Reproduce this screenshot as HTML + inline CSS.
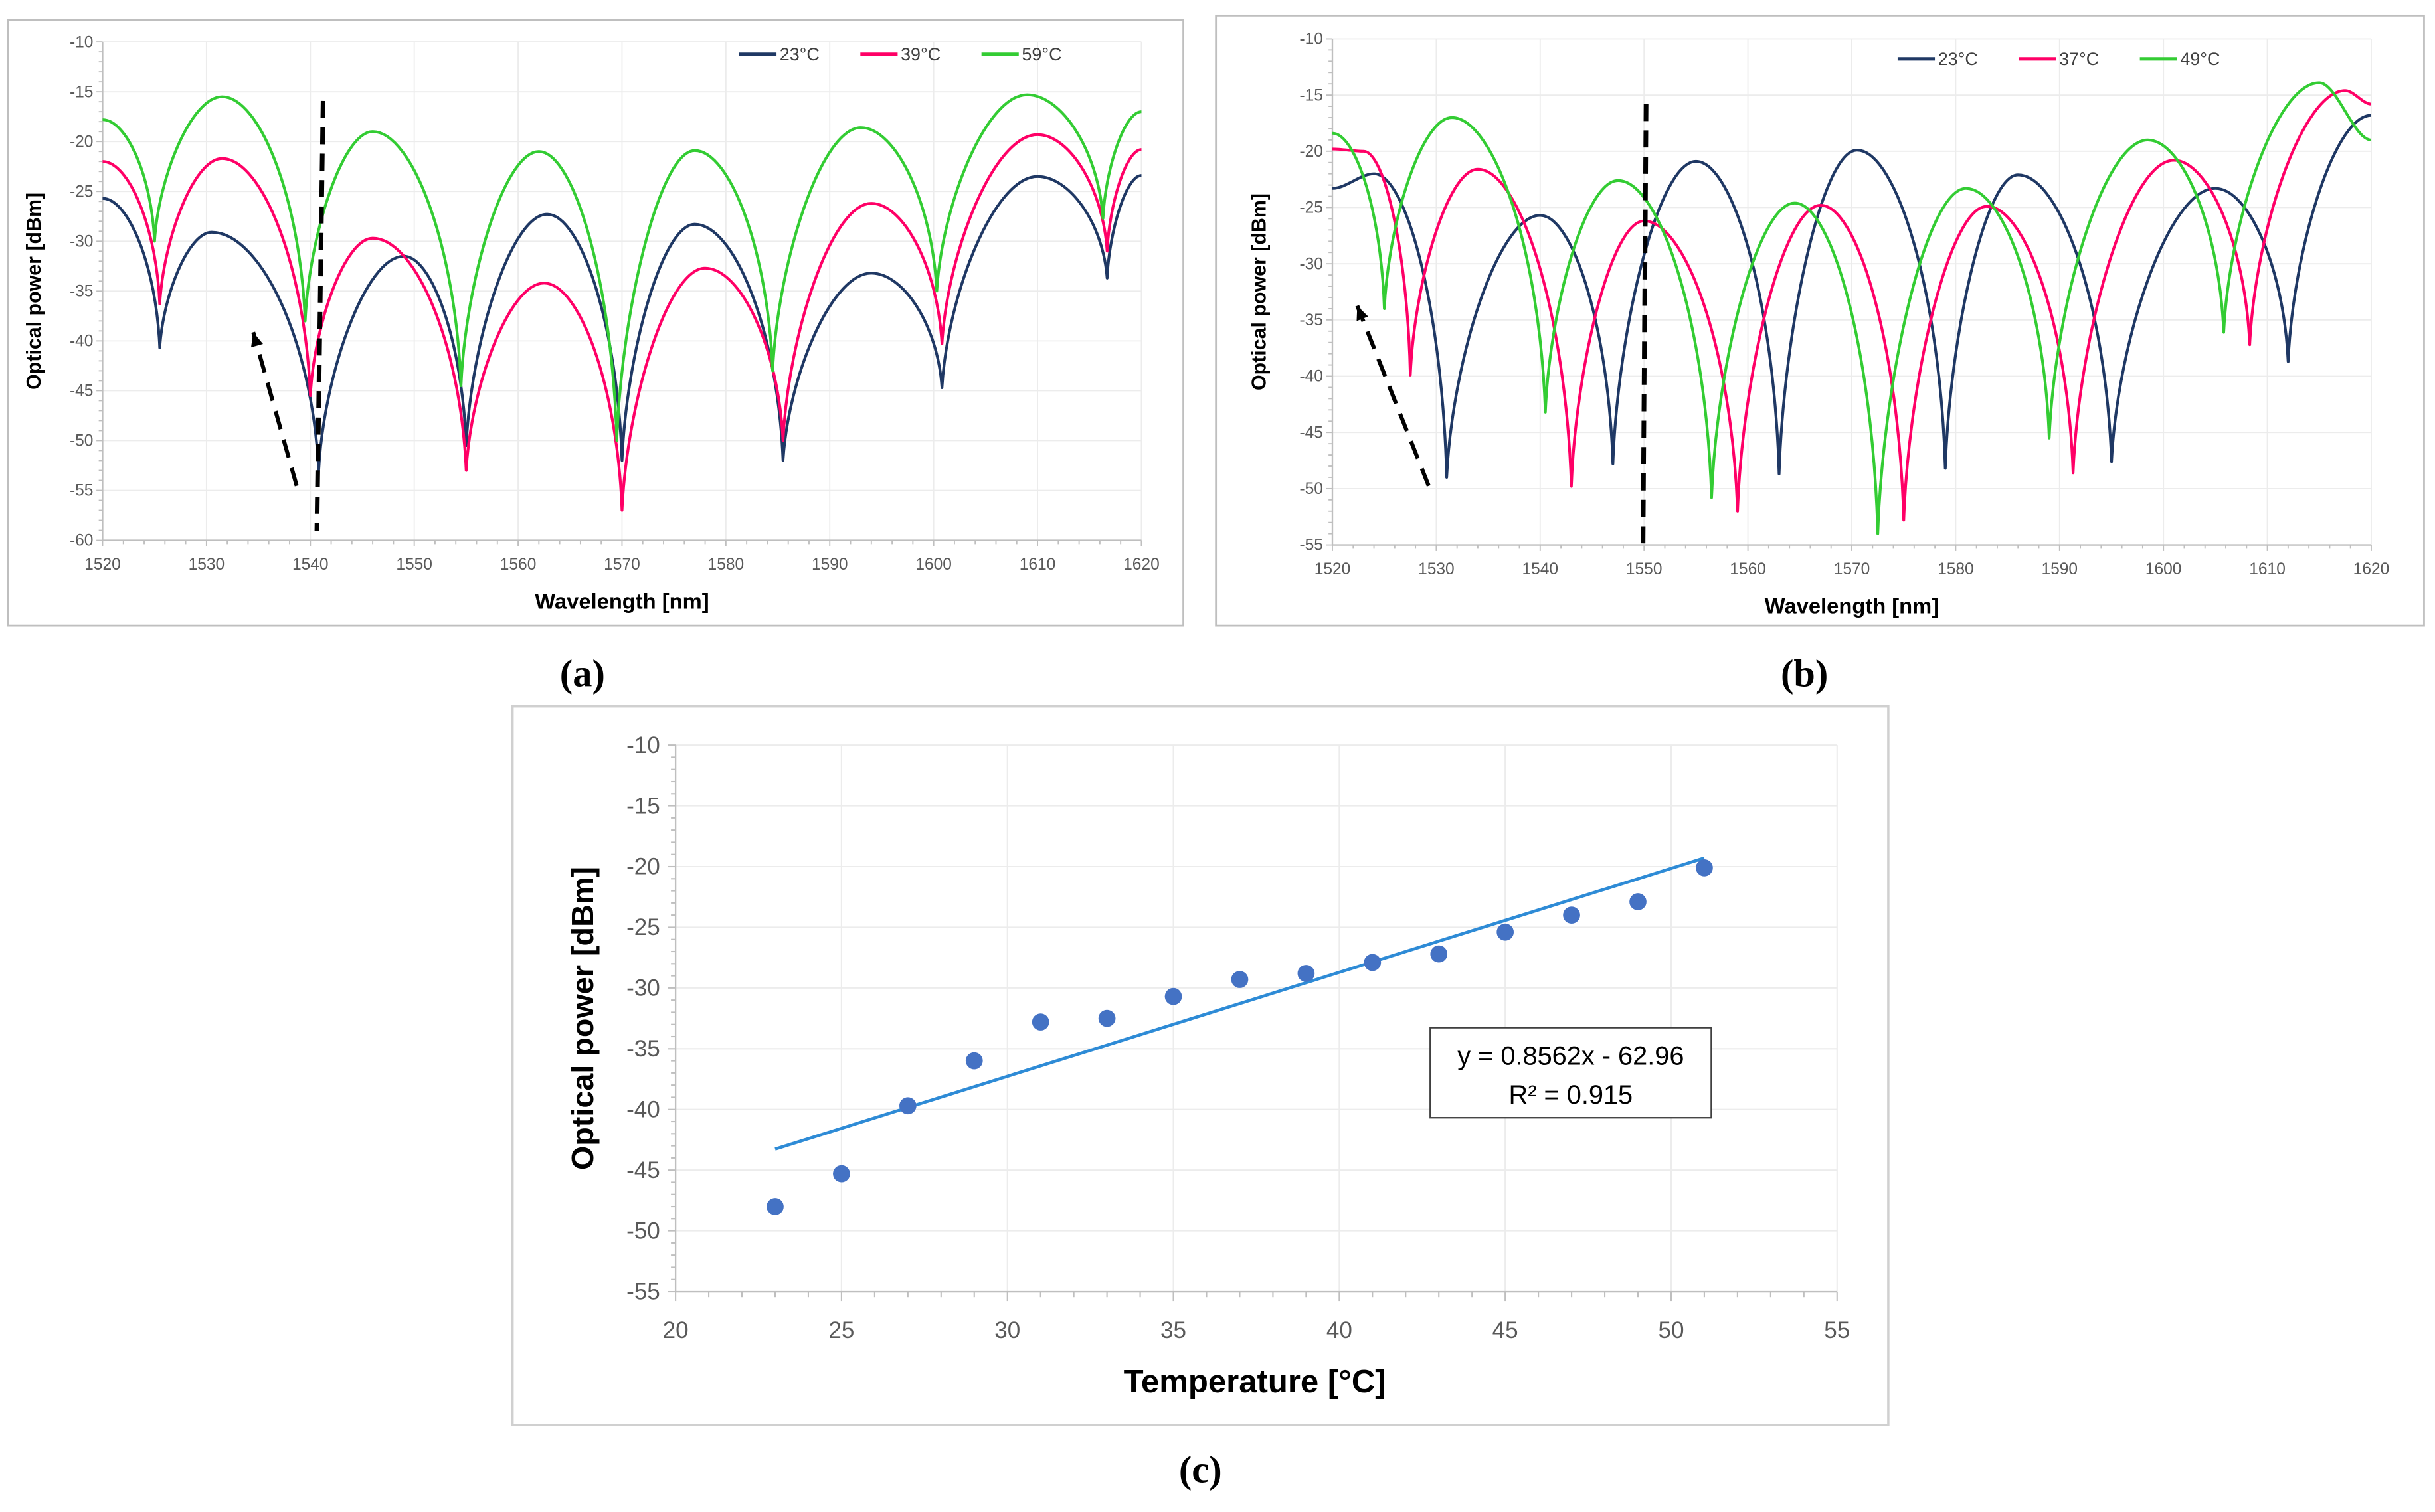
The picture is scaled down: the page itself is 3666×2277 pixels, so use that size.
<!DOCTYPE html>
<html><head><meta charset="utf-8">
<style>
html,body{margin:0;padding:0;background:#fff;}
svg{display:block;}
text{font-family:"Liberation Sans",sans-serif;}
text.serif{font-family:"Liberation Serif",serif;}
</style></head>
<body>
<svg id="fig" width="3666" height="2277" viewBox="0 0 1568 974" xmlns="http://www.w3.org/2000/svg">
</svg>
<script>
// ---------- Panel (a) data ----------
const aBlueX=[1520,1525.5,1530.5,1540.8,1549,1555,1562.8,1570,1577,1585.5,1594,1600.8,1610,1616.7,1620];
const aBlueY=[-25.7,-40.7,-29.1,-53,-31.5,-50.5,-27.3,-52,-28.3,-52,-33.2,-44.7,-23.5,-33.7,-23.4];
const aRedX=[1520,1525.5,1531.5,1540,1546,1555,1562.5,1570,1578,1585.5,1594,1600.8,1610,1616.7,1620];
const aRedY=[-22,-36.3,-21.7,-45.5,-29.7,-53,-34.2,-57,-32.7,-50,-26.2,-40.3,-19.3,-31,-20.8];
const aGreenX=[1520,1525,1531.5,1539.5,1546,1554.5,1562,1569.5,1577,1584.5,1593,1600.3,1609,1616.3,1620];
const aGreenY=[-17.8,-30,-15.5,-38,-19,-44.5,-21,-50,-20.9,-43,-18.6,-35,-15.3,-27.7,-17];
const aLegend=["23°C","39°C","59°C"];
// ---------- Panel (b) data ----------
const bBlueX=[1520,1524,1531,1540,1547,1555,1563,1570.5,1579,1586,1595,1605,1612,1620];
const bBlueY=[-23.3,-22,-49,-25.7,-47.8,-20.9,-48.7,-19.9,-48.2,-22.1,-47.6,-23.3,-38.7,-16.8];
const bRedX=[1520,1523,1527.5,1534,1543,1550,1559,1567,1575,1583,1591.3,1601,1608.3,1617.5,1620];
const bRedY=[-19.8,-20,-39.9,-21.6,-49.8,-26.2,-52,-24.8,-52.8,-24.9,-48.6,-20.8,-37.2,-14.6,-15.8];
const bGreenX=[1520,1525,1531.5,1540.5,1547.5,1556.5,1564.5,1572.5,1581,1589,1598.5,1605.8,1615,1620];
const bGreenY=[-18.4,-34,-17,-43.2,-22.6,-50.8,-24.6,-54,-23.3,-45.5,-19,-36.1,-13.9,-19];
const bLegend=["23°C","37°C","49°C"];
// ---------- Panel (c) data ----------
const cTemps=[23,25,27,29,31,33,35,37,39,41,43,45,47,49,51];
const cPower=[-48,-45.3,-39.7,-36,-32.8,-32.5,-30.7,-29.3,-28.8,-27.9,-27.2,-25.4,-24,-22.9,-20.1];
const cSlope=0.8562, cIntercept=-62.96;
const cXTicks=[20,25,30,35,40,45,50,55];
const cYTicks=[-10,-15,-20,-25,-30,-35,-40,-45,-50,-55];
const abXTicks=[1520,1530,1540,1550,1560,1570,1580,1590,1600,1610,1620];
const aYTicks=[-10,-15,-20,-25,-30,-35,-40,-45,-50,-55,-60];
const bYTicks=[-10,-15,-20,-25,-30,-35,-40,-45,-50,-55];

const NS="http://www.w3.org/2000/svg";
const svg=document.getElementById('fig');
function mk(tag,attrs,parent){const e=document.createElementNS(NS,tag);for(const k in attrs)e.setAttribute(k,attrs[k]);(parent||svg).appendChild(e);return e;}
function txt(s,attrs,parent){const e=mk('text',attrs,parent);e.textContent=s;return e;}

function scale(d0,d1,r0,r1){return v=>r0+(v-d0)*(r1-r0)/(d1-d0);}

function spectrumPath(xs,ys,sx,sy){
  const P=xs.map((x,i)=>[sx(x),sy(ys[i])]);
  const isDip=i=>i>0&&i<ys.length-1&&ys[i]<ys[i-1]&&ys[i]<ys[i+1];
  let d='M'+P[0][0].toFixed(2)+','+P[0][1].toFixed(2);
  for(let i=0;i<P.length-1;i++){
    const A=P[i],B=P[i+1],dx=B[0]-A[0];
    let c1,c2;
    if(isDip(i+1)){c1=[A[0]+0.45*dx,A[1]];c2=[B[0]-0.06*dx,A[1]+0.45*(B[1]-A[1])];}
    else if(isDip(i)){c1=[A[0]+0.06*dx,A[1]+0.45*(B[1]-A[1])];c2=[B[0]-0.45*dx,B[1]];}
    else{c1=[A[0]+dx/3,A[1]];c2=[B[0]-dx/3,B[1]];}
    d+=' C'+c1.map(v=>v.toFixed(2)).join(',')+' '+c2.map(v=>v.toFixed(2)).join(',')+' '+B[0].toFixed(2)+','+B[1].toFixed(2);
  }
  return d;
}

function spectrumPanel(cfg){
  const g=mk('g',{});
  
  
  const fr=mk('rect',{x:cfg.frame[0],y:cfg.frame[1],width:cfg.frame[2],height:cfg.frame[3],fill:'#fff',stroke:'#bfbfbf','stroke-width':1.2},g);
  
  const sx=scale(1520,1620,cfg.px0,cfg.px1), sy=scale(cfg.ymax,cfg.ymin,cfg.py0,cfg.py1);
  abXTicks.forEach(t=>{const l=mk('line',{x1:sx(t),x2:sx(t),y1:cfg.py0,y2:cfg.py1,stroke:'#ececec','stroke-width':0.8},g);
    });
  cfg.yTicks.forEach(t=>{const l=mk('line',{x1:cfg.px0,x2:cfg.px1,y1:sy(t),y2:sy(t),stroke:'#ececec','stroke-width':0.8},g);
    });
  mk('line',{x1:cfg.px0,x2:cfg.px0,y1:cfg.py0,y2:cfg.py1,stroke:'#bfbfbf','stroke-width':1},g);
  mk('line',{x1:cfg.px0,x2:cfg.px1,y1:cfg.py1,y2:cfg.py1,stroke:'#bfbfbf','stroke-width':1},g);
  for(let v=1520;v<=1620;v+=2){mk('line',{x1:sx(v),x2:sx(v),y1:cfg.py1,y2:cfg.py1+(v%10===0?4:2.5),stroke:'#bfbfbf','stroke-width':0.8},g);}
  for(let v=cfg.ymin;v<=cfg.ymax;v+=1){mk('line',{x1:cfg.px0-(v%5===0?4:2.5),x2:cfg.px0,y1:sy(v),y2:sy(v),stroke:'#bfbfbf','stroke-width':0.8},g);}
  abXTicks.forEach(t=>{const e=txt(String(t),{x:sx(t),y:cfg.py1+19,'font-size':10.5,fill:'#595959','text-anchor':'middle'},g);
    });
  cfg.yTicks.forEach(t=>{const e=txt(String(t),{x:cfg.px0-6,y:sy(t)+3.5,'font-size':10.5,fill:'#595959','text-anchor':'end'},g);
    });
  const yl=txt('Optical power [dBm]',{x:0,y:0,'font-size':13,'font-weight':'bold',fill:'#000','text-anchor':'middle',transform:`translate(${cfg.ylx},${(cfg.py0+cfg.py1)/2}) rotate(-90)`},g);
  
  const xl=txt('Wavelength [nm]',{x:(cfg.px0+cfg.px1)/2,y:cfg.xly,'font-size':14,'font-weight':'bold',fill:'#000','text-anchor':'middle'},g);
  
  const cols=['#1f3864','#ff0066','#33cc33'];
  const names=['series-low-temp','series-mid-temp','series-high-temp'];
  cfg.series.forEach((s,i)=>{
    const p=mk('path',{d:spectrumPath(s[0],s[1],sx,sy),fill:'none',stroke:cols[i],'stroke-width':1.8,'stroke-linejoin':'round'},g);
    
  });
  cfg.legend.forEach((lab,i)=>{
    const lx=cfg.legX+i*78;
    const lg=mk('g',{},g);
    mk('line',{x1:lx,x2:lx+24,y1:cfg.legY,y2:cfg.legY,stroke:cols[i],'stroke-width':2.2},lg);
    txt(lab,{x:lx+26,y:cfg.legY+4,'font-size':11.5,fill:'#404040'},lg);
  });
  const v=mk('line',{x1:cfg.vline[0],y1:cfg.vline[1],x2:cfg.vline[2],y2:cfg.vline[3],stroke:'#000','stroke-width':3,'stroke-dasharray':'11,6'},g);
  
  const [ax0,ay0,ax1,ay1]=cfg.arrow;
  const a=mk('line',{x1:ax0,y1:ay0,x2:ax1,y2:ay1,stroke:'#000','stroke-width':2.6,'stroke-dasharray':'12,7'},g);
  
  const ang=Math.atan2(ay1-ay0,ax1-ax0),L=9,W=4;
  const bx=ax1-L*Math.cos(ang),by=ay1-L*Math.sin(ang);
  const hd=mk('polygon',{points:`${ax1},${ay1} ${bx+W*Math.sin(ang)},${by-W*Math.cos(ang)} ${bx-W*Math.sin(ang)},${by+W*Math.cos(ang)}`,fill:'#000'},g);
  
  const pl=txt(cfg.label,{x:cfg.labX,y:442,'font-size':25,'font-weight':'bold',fill:'#000','text-anchor':'middle','class':'serif',style:'font-family:"Liberation Serif",serif'},g);
  
}

spectrumPanel({name:'panel-a-chart',frame:[5,13,757,390],px0:66,px1:735,py0:27,py1:348,ymax:-10,ymin:-60,yTicks:aYTicks,
  ylx:26,xly:392,series:[[aBlueX,aBlueY],[aRedX,aRedY],[aGreenX,aGreenY]],legend:aLegend,legX:476,legY:35,
  vline:[208,65,204,342],arrow:[191,313,163,214],label:'(a)',labX:375});
spectrumPanel({name:'panel-b-chart',frame:[783,10,778,393],px0:858,px1:1527,py0:25,py1:351,ymax:-10,ymin:-55,yTicks:bYTicks,
  ylx:815,xly:395,series:[[bBlueX,bBlueY],[bRedX,bRedY],[bGreenX,bGreenY]],legend:bLegend,legX:1222,legY:38,
  vline:[1060,67,1058,356],arrow:[920,313,874,197],label:'(b)',labX:1162});

(function(){
  const g=mk('g',{});
  
  
  const fr=mk('rect',{x:330,y:455,width:886,height:463,fill:'#fff',stroke:'#d0d0d0','stroke-width':1.5},g);
  
  const px0=435,px1=1183,py0=480,py1=832;
  const sx=scale(20,55,px0,px1), sy=scale(-10,-55,py0,py1);
  cXTicks.forEach(t=>{const l=mk('line',{x1:sx(t),x2:sx(t),y1:py0,y2:py1,stroke:'#ececec','stroke-width':0.9},g);
    });
  cYTicks.forEach(t=>{const l=mk('line',{x1:px0,x2:px1,y1:sy(t),y2:sy(t),stroke:'#ececec','stroke-width':0.9},g);
    });
  mk('line',{x1:px0,x2:px0,y1:py0,y2:py1,stroke:'#bfbfbf','stroke-width':1},g);
  mk('line',{x1:px0,x2:px1,y1:py1,y2:py1,stroke:'#bfbfbf','stroke-width':1},g);
  for(let v=20;v<=55;v++){mk('line',{x1:sx(v),x2:sx(v),y1:py1,y2:py1+(v%5===0?6:3.5),stroke:'#bfbfbf','stroke-width':0.9},g);}
  for(let v=-55;v<=-10;v++){mk('line',{x1:px0-(v%5===0?5:3),x2:px0,y1:sy(v),y2:sy(v),stroke:'#bfbfbf','stroke-width':0.9},g);}
  cXTicks.forEach(t=>{const e=txt(String(t),{x:sx(t),y:py1+30,'font-size':15,fill:'#595959','text-anchor':'middle'},g);
    });
  cYTicks.forEach(t=>{const e=txt(String(t),{x:px0-10,y:sy(t)+5,'font-size':15,fill:'#595959','text-anchor':'end'},g);
    });
  const yl=txt('Optical power [dBm]',{x:0,y:0,'font-size':20,'font-weight':'bold',fill:'#000','text-anchor':'middle',transform:`translate(382,${(py0+py1)/2}) rotate(-90)`},g);
  
  const xl=txt('Temperature [°C]',{x:808,y:897,'font-size':21,'font-weight':'bold',fill:'#000','text-anchor':'middle'},g);
  
  const t0=cTemps[0],t1=cTemps[cTemps.length-1];
  const tl=mk('line',{x1:sx(t0),y1:sy(cSlope*t0+cIntercept),x2:sx(t1),y2:sy(cSlope*t1+cIntercept),stroke:'#2e8bd6','stroke-width':2},g);
  
  cTemps.forEach((t,i)=>{
    const c=mk('circle',{cx:sx(t),cy:sy(cPower[i]),r:5.5,fill:'#4472c4'},g);
    
  });
  const eq=mk('g',{},g);
  mk('rect',{x:921,y:662,width:181,height:58,fill:'#fff',stroke:'#404040','stroke-width':1},eq);
  txt('y = 0.8562x - 62.96',{x:1011.5,y:686,'font-size':17,fill:'#000','text-anchor':'middle'},eq);
  txt('R² = 0.915',{x:1011.5,y:711,'font-size':17,fill:'#000','text-anchor':'middle'},eq);
  const pl=txt('(c)',{x:773,y:955,'font-size':25,'font-weight':'bold',fill:'#000','text-anchor':'middle','class':'serif',style:'font-family:"Liberation Serif",serif'},g);
  
})();
</script>
</body></html>
